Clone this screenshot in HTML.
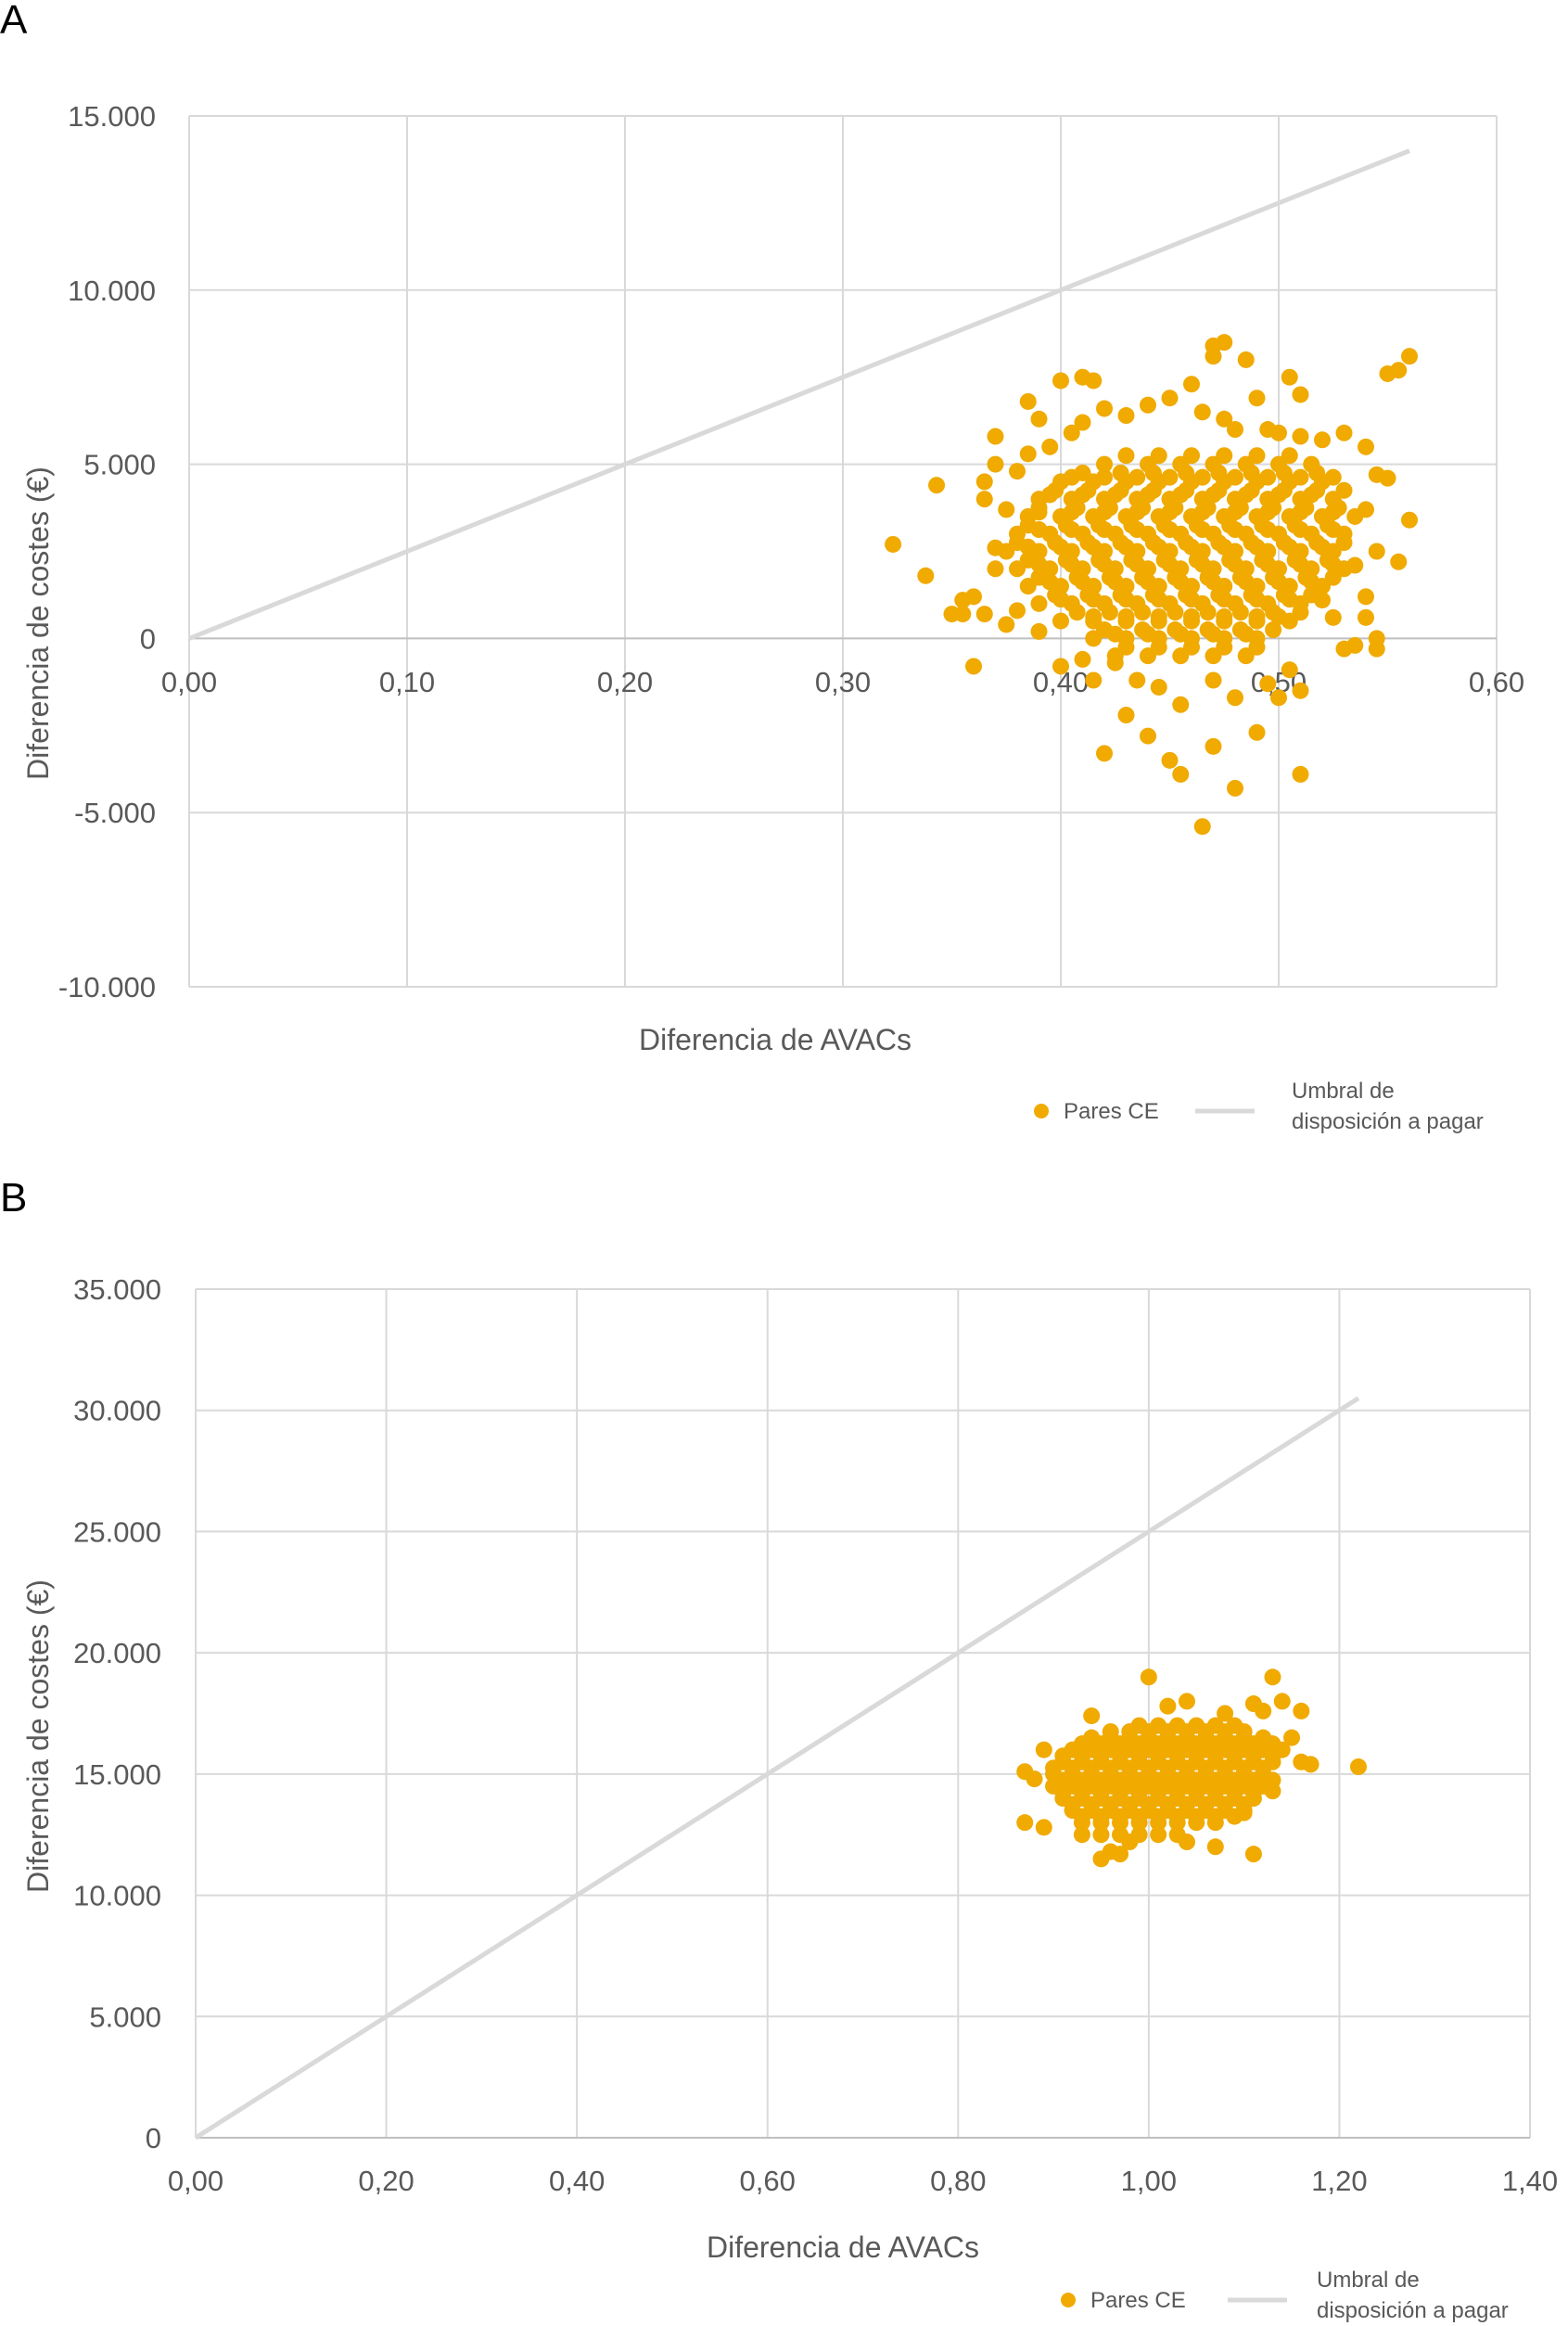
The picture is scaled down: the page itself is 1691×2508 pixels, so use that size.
<!DOCTYPE html>
<html><head><meta charset="utf-8"><style>
html,body{margin:0;padding:0;background:#fff}
svg{display:block}
text{font-family:"Liberation Sans",sans-serif;fill:#595959}
</style></head><body>
<svg id="root" width="1691" height="2508" viewBox="0 0 1691 2508" xmlns="http://www.w3.org/2000/svg">
<text x="0" y="36" font-size="44" style="fill:#000">A</text>
<text x="0" y="1306" font-size="44" style="fill:#000">B</text>
<g id="chartA"></g>
<g id="chartB"></g>
</svg>
<script>
// ---------- Chart A data ----------
const xTicksA = [0,0.1,0.2,0.3,0.4,0.5,0.6];
const xTickLabelsA = ["0,00","0,10","0,20","0,30","0,40","0,50","0,60"];
const yTicksA = [-10000,-5000,0,5000,10000,15000];
const yTickLabelsA = ["-10.000","-5.000","0","5.000","10.000","15.000"];
const thresholdA = [[0,0],[0.56,14000]];
const costLevelsA = [5250,5000,4750,4500,4250,4000,3750,3500,3250,3000,2750,2500,2250,2000,1750,1500,1250,1000,750,500,250,0,-250,-500,
4625,4125,3625,3125,2625,2125,1625,1125,625,125];
const qalyByLevelA = [
[0.43,0.445,0.46,0.475,0.49,0.505],
[0.42,0.44,0.455,0.47,0.485,0.50,0.515],
[0.41,0.4275,0.4425,0.4575,0.4725,0.4875,0.5025,0.5175],
[0.40,0.415,0.43,0.445,0.46,0.475,0.49,0.505,0.52],
[0.3975,0.4125,0.4275,0.4425,0.4575,0.4725,0.4875,0.5025,0.5175,0.53],
[0.39,0.405,0.42,0.435,0.45,0.465,0.48,0.495,0.51,0.525],
[0.39,0.4075,0.4225,0.4375,0.4525,0.4675,0.4825,0.4975,0.5125,0.5275],
[0.385,0.40,0.415,0.43,0.445,0.46,0.475,0.49,0.505,0.52,0.535],
[0.385,0.4025,0.4175,0.4325,0.4475,0.4625,0.4775,0.4925,0.5075,0.5225],
[0.38,0.395,0.41,0.425,0.44,0.455,0.47,0.485,0.50,0.515,0.53],
[0.38,0.3975,0.4125,0.4275,0.4425,0.4575,0.4725,0.4875,0.5025,0.5175,0.53],
[0.375,0.39,0.405,0.42,0.435,0.45,0.465,0.48,0.495,0.51,0.525],
[0.385,0.4025,0.4175,0.4325,0.4475,0.4625,0.4775,0.4925,0.5075,0.5225],
[0.38,0.395,0.41,0.425,0.44,0.455,0.47,0.485,0.50,0.515,0.53],
[0.39,0.4075,0.4225,0.4375,0.4525,0.4675,0.4825,0.4975,0.5125,0.525],
[0.385,0.40,0.415,0.43,0.445,0.46,0.475,0.49,0.505,0.52],
[0.3975,0.4125,0.4275,0.4425,0.4575,0.4725,0.4875,0.5025,0.515],
[0.39,0.405,0.42,0.435,0.45,0.465,0.48,0.495,0.51],
[0.4075,0.4225,0.4375,0.4525,0.4675,0.4825,0.4975,0.51],
[0.40,0.415,0.43,0.445,0.46,0.475,0.49,0.505],
[0.42,0.4375,0.4525,0.4675,0.4825,0.4975],
[0.415,0.43,0.445,0.46,0.475,0.49],
[0.43,0.445,0.46,0.475,0.49],
[0.425,0.44,0.455,0.47,0.485],
[0.405,0.42,0.435,0.45,0.465,0.48,0.495,0.51,0.525],
[0.395,0.41,0.425,0.44,0.455,0.47,0.485,0.50,0.515],
[0.39,0.405,0.42,0.435,0.45,0.465,0.48,0.495,0.51,0.525],
[0.39,0.405,0.42,0.435,0.45,0.465,0.48,0.495,0.51,0.525],
[0.385,0.40,0.415,0.43,0.445,0.46,0.475,0.49,0.505,0.52],
[0.39,0.405,0.42,0.435,0.45,0.465,0.48,0.495,0.51,0.525],
[0.395,0.41,0.425,0.44,0.455,0.47,0.485,0.50,0.515],
[0.40,0.415,0.43,0.445,0.46,0.475,0.49,0.505],
[0.415,0.43,0.445,0.46,0.475,0.49,0.50],
[0.425,0.44,0.455,0.47,0.485]
];
const extraQalyA = [0.323,0.338,0.343,0.36,0.355,0.39,0.40,0.41,0.415,0.47,0.475,0.47,0.485,0.505,0.49,0.51,0.55,0.555,0.56,0.555,0.56,0.55,0.545,0.545,0.51,0.465,0.48,0.45,0.455,0.42,0.43,0.44,0.47,0.49,0.50,0.51,0.53,0.54,0.37,0.365,0.38,
0.36,0.365,0.37,0.37,0.375,0.365,0.37,0.385,0.395,0.405,0.41,0.42,0.43,0.44,0.45,0.46,0.465,0.475,0.48,0.495,0.50,0.51,0.52,0.53,0.54,0.545,0.54,0.545,0.535,0.54,0.535,0.525,0.52,0.505,0.495,0.48,0.47,0.455,0.445,0.435,0.425,0.41,0.415,0.40,0.39,0.38,0.375,0.355,0.35,0.385];
const extraCostA = [2700,1800,4400,-800,700,6300,7400,7500,7400,8400,8500,8100,8000,7500,6900,7000,7600,7700,8100,2200,3400,4600,0,-300,-3900,-5400,-4300,-3500,-3900,-3300,-2200,-2800,-3100,-2700,-1700,-1500,-300,600,5800,4500,4800,
1200,700,2000,2600,3700,4000,5000,5300,5500,5900,6200,6600,6400,6700,6900,7300,6500,6300,6000,6000,5900,5800,5700,5900,5500,4700,3700,2500,2100,1200,-200,600,1100,-900,-1300,-1700,-1200,-1900,-1400,-1200,-700,-600,-1200,-800,200,800,400,1100,700,6800];

// ---------- Chart B data ----------
const xTicksB = [0,0.2,0.4,0.6,0.8,1.0,1.2,1.4];
const xTickLabelsB = ["0,00","0,20","0,40","0,60","0,80","1,00","1,20","1,40"];
const yTicksB = [0,5000,10000,15000,20000,25000,30000,35000];
const yTickLabelsB = ["0","5.000","10.000","15.000","20.000","25.000","30.000","35.000"];
const thresholdB = [[0,0],[1.22,30500]];
const costLevelsB = [17000,16750,16500,16250,16000,15750,15500,15250,15000,14750,14500,14250,14000,13750,13500,13250,13000,12500];
const qalyByLevelB = [
[0.99,1.01,1.03,1.05,1.07,1.09],
[0.96,0.98,1.00,1.02,1.04,1.06,1.08,1.10],
[0.94,0.96,0.98,1.00,1.02,1.04,1.06,1.08,1.10,1.12],
[0.93,0.95,0.97,0.99,1.01,1.03,1.05,1.07,1.09,1.11,1.13],
[0.92,0.94,0.96,0.98,1.00,1.02,1.04,1.06,1.08,1.10,1.12,1.14],
[0.91,0.93,0.95,0.97,0.99,1.01,1.03,1.05,1.07,1.09,1.11,1.13],
[0.91,0.93,0.95,0.97,0.99,1.01,1.03,1.05,1.07,1.09,1.11,1.13],
[0.90,0.92,0.94,0.96,0.98,1.00,1.02,1.04,1.06,1.08,1.10,1.12],
[0.90,0.92,0.94,0.96,0.98,1.00,1.02,1.04,1.06,1.08,1.10,1.12],
[0.91,0.93,0.95,0.97,0.99,1.01,1.03,1.05,1.07,1.09,1.11,1.13],
[0.90,0.92,0.94,0.96,0.98,1.00,1.02,1.04,1.06,1.08,1.10,1.12],
[0.91,0.93,0.95,0.97,0.99,1.01,1.03,1.05,1.07,1.09,1.11],
[0.91,0.93,0.95,0.97,0.99,1.01,1.03,1.05,1.07,1.09,1.11],
[0.92,0.94,0.96,0.98,1.00,1.02,1.04,1.06,1.08,1.10],
[0.92,0.94,0.96,0.98,1.00,1.02,1.04,1.06,1.08,1.10],
[0.93,0.95,0.97,0.99,1.01,1.03,1.05,1.07,1.09],
[0.93,0.95,0.97,0.99,1.01,1.03,1.05,1.07],
[0.95,0.97,0.99,1.01,1.03]
];
const extraQalyB = [0.87,0.87,0.88,0.89,0.89,0.94,0.95,0.96,0.97,1.00,1.02,1.04,1.08,1.07,1.11,1.13,1.14,1.15,1.16,1.16,1.17,1.22,1.12,1.11,1.04,1.10,1.13,0.93,0.98];
const extraCostB = [13000,15100,14800,12800,16000,17400,11500,11800,11700,19000,17800,18000,17500,12000,11700,19000,18000,16500,17600,15500,15400,15300,17600,17900,12200,13400,14300,12500,12200];

const NS = "http://www.w3.org/2000/svg";
function mk(parent, tag, attrs){const e=document.createElementNS(NS,tag);for(const k in attrs)e.setAttribute(k,attrs[k]);parent.appendChild(e);return e;}
const DOT = "#F0AA00", GRID = "#d9d9d9";

function drawChart(g, cfg){
  const sx = v => cfg.x0 + (v - cfg.xmin) / (cfg.xmax - cfg.xmin) * (cfg.x1 - cfg.x0);
  const sy = v => cfg.y0 - (v - cfg.ymin) / (cfg.ymax - cfg.ymin) * (cfg.y0 - cfg.y1);
  cfg.xTicks.forEach((t,i)=>{
    const l = mk(g,"line",{x1:sx(t),x2:sx(t),y1:cfg.y1,y2:cfg.y0,stroke:GRID,"stroke-width":2});
    
    
    const tx = mk(g,"text",{x:sx(t),y:cfg.xLabelY,"text-anchor":"middle","font-size":31});
    tx.textContent = cfg.xLabels[i];
    
    
  });
  cfg.yTicks.forEach((t,i)=>{
    const l = mk(g,"line",{x1:cfg.x0,x2:cfg.x1,y1:sy(t),y2:sy(t),stroke:t===0?"#bfbfbf":GRID,"stroke-width":2});
    
    
    const tx = mk(g,"text",{x:cfg.yLabelX,y:sy(t)+11,"text-anchor":"end","font-size":31});
    tx.textContent = cfg.yLabels[i];
    
    
  });
  const th = mk(g,"line",{x1:sx(cfg.thr[0][0]),y1:sy(cfg.thr[0][1]),x2:sx(cfg.thr[1][0]),y2:sy(cfg.thr[1][1]),stroke:GRID,"stroke-width":5});
  
  
  const pts = [];
  cfg.levels.forEach((c,i)=>cfg.byLevel[i].forEach(q=>pts.push([q,c])));
  cfg.exQ.forEach((q,i)=>pts.push([q,cfg.exC[i]]));
  pts.forEach(p=>{
    const c = mk(g,"circle",{cx:sx(p[0]),cy:sy(p[1]),r:9,fill:DOT});
    
    
  });
  const xt = mk(g,"text",{x:cfg.xTitle[0],y:cfg.xTitle[1],"text-anchor":"middle","font-size":32});
  xt.textContent = "Diferencia de AVACs";
  
  
  const yt = mk(g,"text",{x:0,y:0,"text-anchor":"middle","font-size":32,transform:`translate(${cfg.yTitle[0]},${cfg.yTitle[1]}) rotate(-90)`});
  yt.textContent = "Diferencia de costes (€)";
  
  
  const L = cfg.legend;
  const ld = mk(g,"circle",{cx:L.dotX,cy:L.y,r:8,fill:DOT});
  
  
  const lt = mk(g,"text",{x:L.dotX+24,y:L.y+8,"font-size":24});
  lt.textContent = "Pares CE";
  
  
  const ll = mk(g,"line",{x1:L.lineX,x2:L.lineX+64,y1:L.y,y2:L.y,stroke:GRID,"stroke-width":5});
  
  
  const lu1 = mk(g,"text",{x:L.txtX,y:L.y-14,"font-size":24});
  lu1.textContent = "Umbral de";
  
  
  const lu2 = mk(g,"text",{x:L.txtX,y:L.y+19,"font-size":24});
  lu2.textContent = "disposición a pagar";
  
  
}

drawChart(document.getElementById('chartA'),{
  x0:204,x1:1614,xmin:0,xmax:0.6,y0:1064,y1:125,ymin:-10000,ymax:15000,
  xTicks:xTicksA,xLabels:xTickLabelsA,yTicks:yTicksA,yLabels:yTickLabelsA,
  xLabelY:746,yLabelX:168,thr:thresholdA,levels:costLevelsA,byLevel:qalyByLevelA,exQ:extraQalyA,exC:extraCostA,
  xTitle:[836,1132],yTitle:[52,672],legend:{dotX:1123,y:1198,lineX:1289,txtX:1393}
});
drawChart(document.getElementById('chartB'),{
  x0:211,x1:1650,xmin:0,xmax:1.4,y0:2305,y1:1390,ymin:0,ymax:35000,
  xTicks:xTicksB,xLabels:xTickLabelsB,yTicks:yTicksB,yLabels:yTickLabelsB,
  xLabelY:2362,yLabelX:174,thr:thresholdB,levels:costLevelsB,byLevel:qalyByLevelB,exQ:extraQalyB,exC:extraCostB,
  xTitle:[909,2434],yTitle:[52,1872],legend:{dotX:1152,y:2480,lineX:1324,txtX:1420}
});
</script>
</body></html>
